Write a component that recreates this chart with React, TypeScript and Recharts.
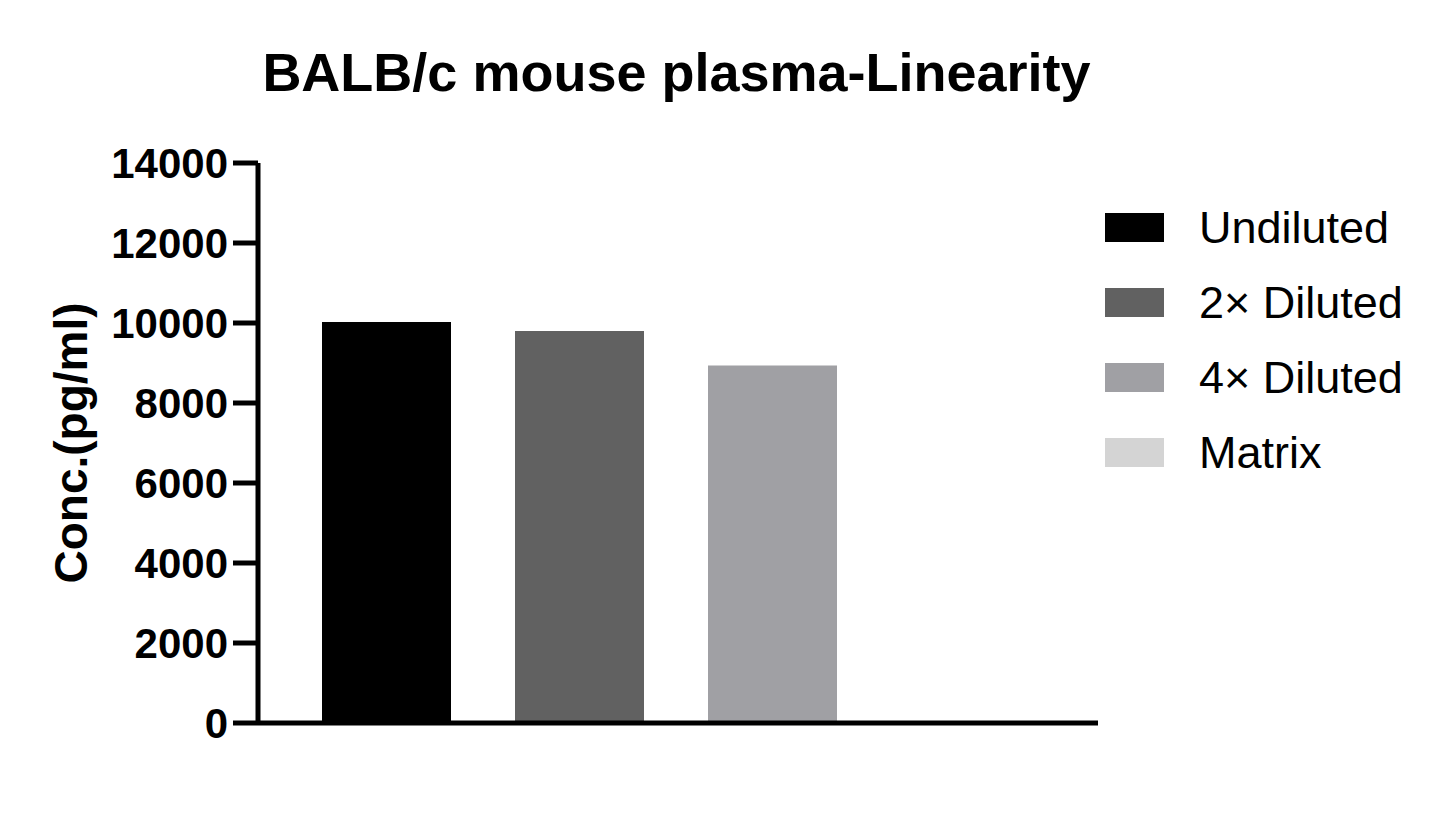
import { Bar, BarChart, Label, Legend, XAxis, YAxis } from "recharts";

const SERIES = ["Undiluted", "2× Diluted", "4× Diluted", "Matrix"];
const VALUES = [10025, 9800, 8940, 0];
const COLORS = ["#000000", "#616161", "#a0a0a4", "#d4d4d4"];
const Y_TICKS = [0, 2000, 4000, 6000, 8000, 10000, 12000, 14000];

const FONT = '"Liberation Sans", Arial, sans-serif';

const row: Record<string, string | number> = { name: "plasma" };
SERIES.forEach((s, i) => {
  row[s] = VALUES[i];
});
const data = [row];

function LegendBox() {
  return (
    <div style={{ fontFamily: FONT }}>
      {SERIES.map((s, i) => (
        <div
          key={s}
          style={{ display: "flex", alignItems: "center", height: 75 }}
        >
          <div style={{ width: 59, height: 29, background: COLORS[i] }} />
          <div
            style={{
              marginLeft: 35,
              fontSize: 45,
              lineHeight: "45px",
              color: "#000",
              whiteSpace: "nowrap",
            }}
          >
            {s}
          </div>
        </div>
      ))}
    </div>
  );
}

export default function App() {
  return (
    <div
      style={{
        position: "absolute",
        left: 0,
        top: 0,
        width: 1445,
        height: 813,
        background: "#fff",
      }}
    >
      <div
        style={{
          position: "absolute",
          left: 0,
          top: 45,
          width: 1353,
          textAlign: "center",
          fontFamily: FONT,
          fontWeight: "bold",
          fontSize: 54,
          lineHeight: "54px",
          color: "#000",
          whiteSpace: "nowrap",
        }}
      >
        BALB/c mouse plasma-Linearity
      </div>
      <BarChart
        width={1445}
        height={813}
        data={data}
        margin={{ top: 163, right: 347, bottom: 89, left: 0 }}
        barSize={129}
        barGap={64}
      >
        <XAxis
          dataKey="name"
          height={1}
          tick={false}
          tickLine={false}
          axisLine={{ stroke: "#000", strokeWidth: 5 }}
          padding={{ left: 0, right: 4 }}
        />
        <YAxis
          width={258}
          domain={[0, 14000]}
          ticks={Y_TICKS}
          interval={0}
          tickSize={25}
          tickMargin={5}
          axisLine={{ stroke: "#000", strokeWidth: 5 }}
          tickLine={{ stroke: "#000", strokeWidth: 5 }}
          tick={{
            fill: "#000",
            fontSize: 42,
            fontWeight: "bold",
            fontFamily: FONT,
          }}
        >
          <Label
            content={() => (
              <text
                transform="translate(87, 443) rotate(-90)"
                textAnchor="middle"
                fontFamily={FONT}
                fontWeight="bold"
                fontSize={46}
                fill="#000"
              >
                Conc.(pg/ml)
              </text>
            )}
          />
        </YAxis>
        <Legend
          layout="vertical"
          align="center"
          verticalAlign="middle"
          content={() => <LegendBox />}
          wrapperStyle={{ left: 1105, top: 190, width: 330, height: 300 }}
        />
        {SERIES.map((s, i) => (
          <Bar key={s} dataKey={s} fill={COLORS[i]} isAnimationActive={false} />
        ))}
      </BarChart>
    </div>
  );
}
